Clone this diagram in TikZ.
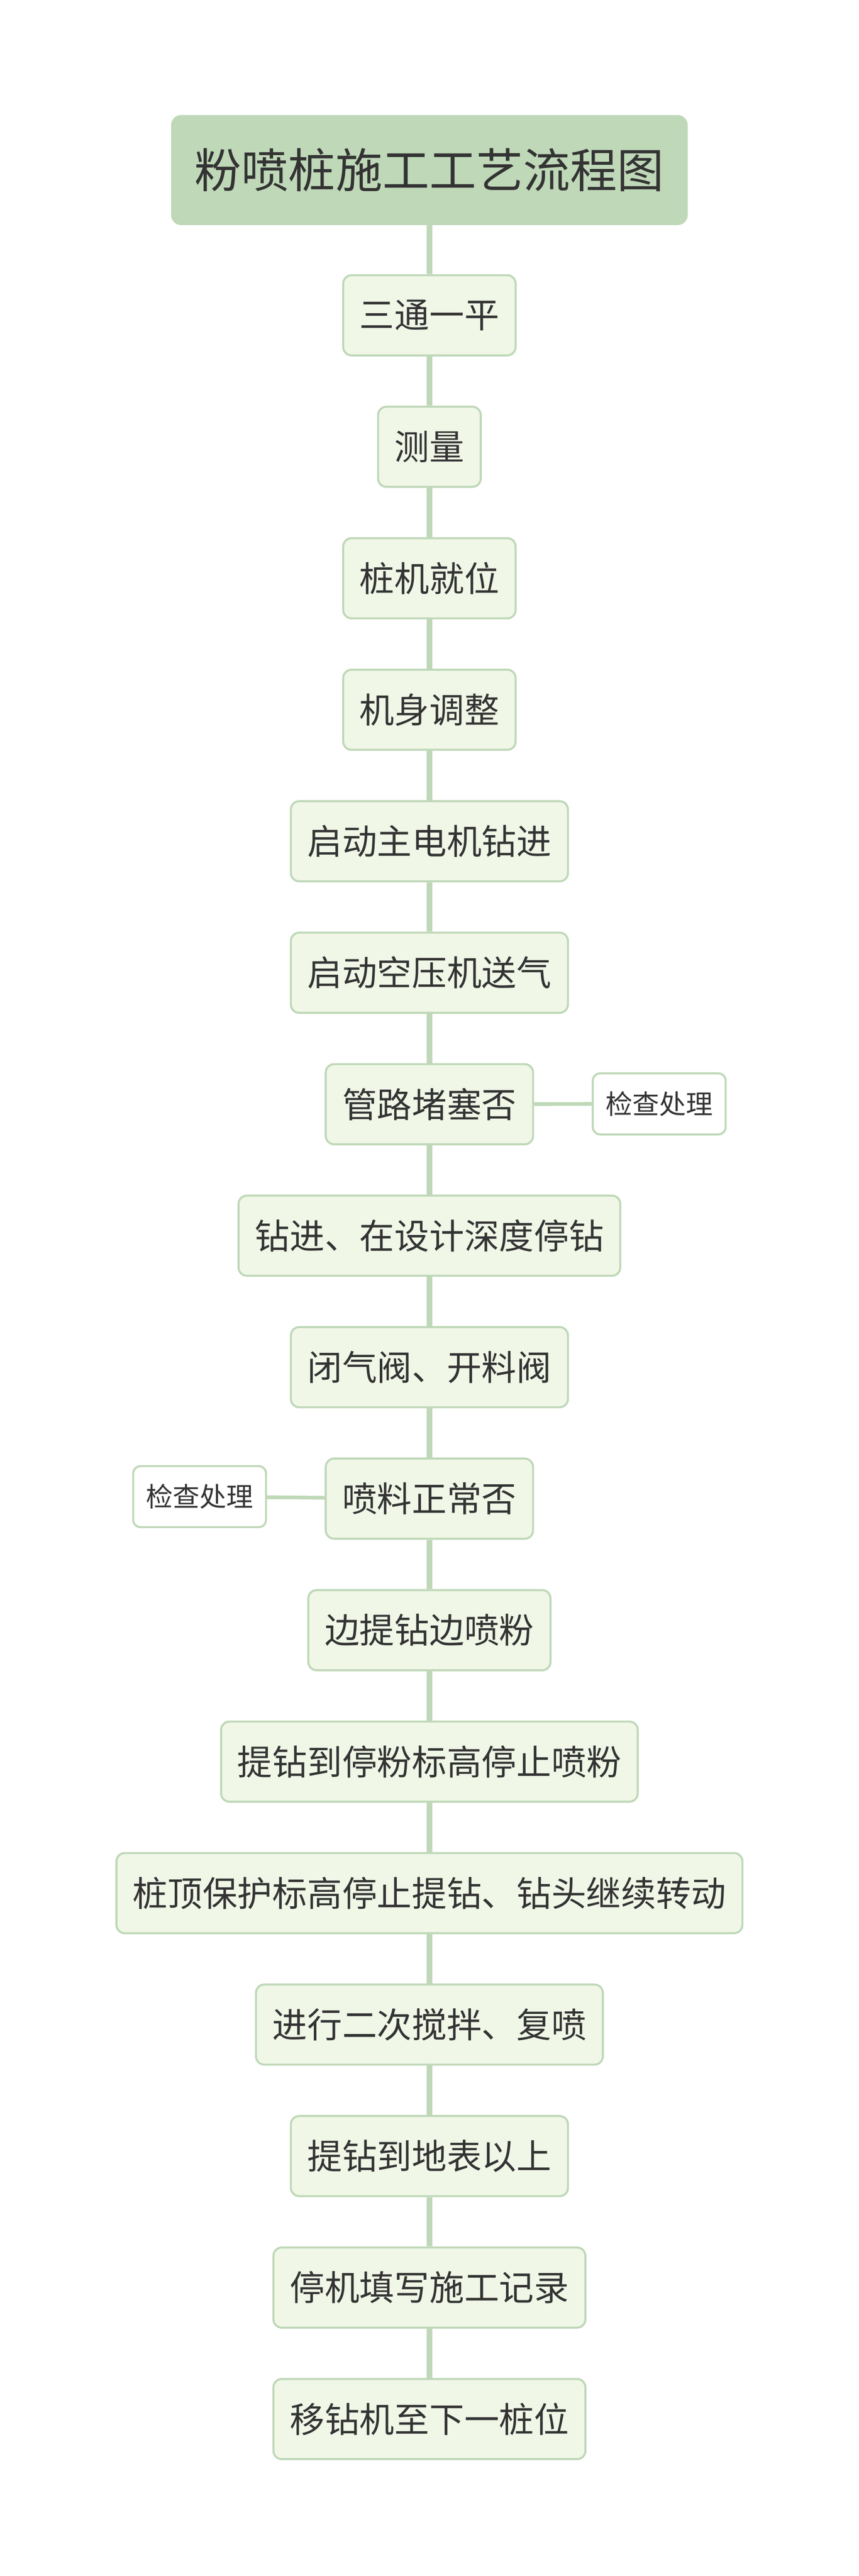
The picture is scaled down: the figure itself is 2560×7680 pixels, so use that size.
\documentclass[tikz,border=0pt]{standalone}
\usepackage{fontspec}
\newfontfamily\cjk{Noto Sans CJK SC}
\definecolor{leafgreen}{HTML}{BFD8B8}
\definecolor{leaffill}{HTML}{F0F7E7}
\definecolor{inkgray}{HTML}{333333}

\begin{document}
\begin{tikzpicture}[%
        x = 0.1pt, y = -0.1pt,
        titlebox/.style = {%
            draw = leafgreen, fill = leafgreen, line width = 0.6pt,
            rounded corners = 2.7pt, inner xsep = 6.7pt,
            minimum width = 152pt, minimum height = 32.2pt, text = inkgray,
            font = \cjk\fontsize{14pt}{16pt}\selectfont
        },
        stepbox/.style = {%
            draw = leafgreen, fill = leaffill, line width = 0.6pt,
            rounded corners = 2.5pt, inner xsep = 4.9pt,
            minimum height = 23.9pt, text = inkgray,
            font = \cjk\fontsize{10.4pt}{12pt}\selectfont
        },
        checkbox/.style = {%
            draw = leafgreen, fill = white, line width = 0.6pt,
            rounded corners = 2.2pt, inner xsep = 3.8pt,
            minimum height = 18.2pt, text = inkgray,
            font = \cjk\fontsize{8pt}{10pt}\selectfont
        },
        link/.style = {draw = leafgreen, line width = 1.6pt},
        sidelink/.style = {draw = leafgreen, line width = 1.1pt}
    ]

        % Page size and background.
        \useasboundingbox (0,0) rectangle (2560,7680);
        \fill[white] (0,0) rectangle (2560,7680);

        % The root of the chart.
        \node[titlebox] (title) at (1280,507) {粉喷桩施工工艺流程图};

        % The steps, one below the other.
        \foreach \lbl [count=\i] in {三通一平, 测量, 桩机就位, 机身调整,
            启动主电机钻进, 启动空压机送气, 管路堵塞否, 钻进、在设计深度停钻,
            闭气阀、开料阀, 喷料正常否, 边提钻边喷粉, 提钻到停粉标高停止喷粉,
            桩顶保护标高停止提钻、钻头继续转动, 进行二次搅拌、复喷,
            提钻到地表以上, 停机填写施工记录, 移钻机至下一桩位}{%
            \node[stepbox] (s\i) at (1280, {940+392*(\i-1)}) {\lbl};
        }

        % Vertical links between the steps.
        \draw[link] (title) -- (s1);
        \foreach \i [evaluate = \i as \n using int(\i+1)] in {1, ..., 16}{%
            \draw[link] (s\i) -- (s\n);
        }

        % Side branches for the two checks.
        \node[checkbox] (chk1) at (1965,3291) {检查处理};
        \node[checkbox] (chk2) at (595,4462) {检查处理};
        \draw[sidelink] (s7) -- (chk1);
        \draw[sidelink] (s10) -- (chk2);
    \end{tikzpicture}
\end{document}
